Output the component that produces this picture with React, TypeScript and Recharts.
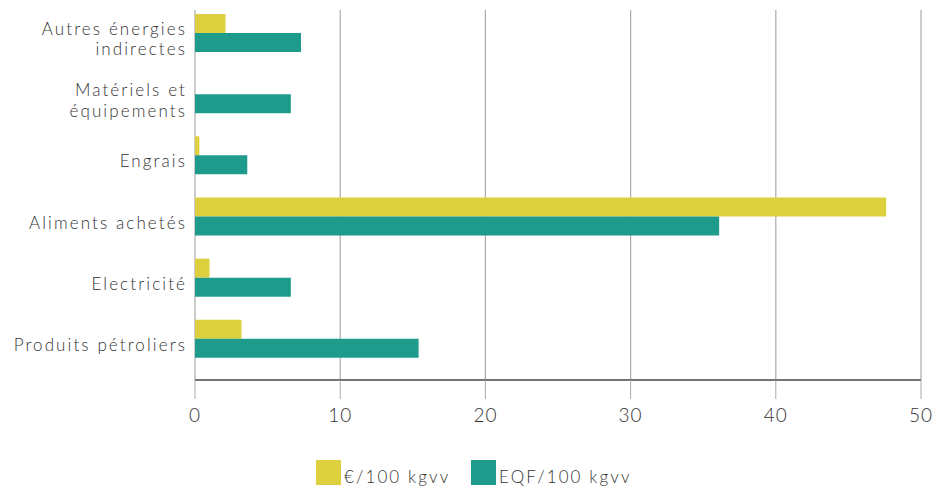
import React from 'react';
import { BarChart, Bar, XAxis, YAxis, CartesianGrid } from 'recharts';

const categories = [
  'Autres énergies\nindirectes',
  'Matériels et\néquipements',
  'Engrais',
  'Aliments achetés',
  'Electricité',
  'Produits pétroliers',
];
const euroValues = [2.1, 0, 0.3, 47.6, 1.0, 3.2];
const eqfValues = [7.3, 6.6, 3.6, 36.1, 6.6, 15.4];
const xTicks = [0, 10, 20, 30, 40, 50];

const YELLOW = '#ddd03f';
const TEAL = '#1e9b8b';
const FONT = 'Lato, "Open Sans", sans-serif';

const data = categories.map((name, i) => ({
  name,
  euro: euroValues[i],
  eqf: eqfValues[i],
}));

const CategoryTick = (props: any) => {
  const { x, y, payload } = props;
  const lines: string[] = String(payload.value).split('\n');
  const lh = 20.5;
  const start = y + 6 - ((lines.length - 1) * lh) / 2;
  return (
    <g>
      {lines.map((l, i) => (
        <text
          key={i}
          x={x}
          y={start + i * lh}
          textAnchor="end"
          dominantBaseline="central"
          fill="#333"
          fontFamily={FONT}
          fontWeight={300}
          fontSize={17}
          letterSpacing={2.1}
        >
          {l}
        </text>
      ))}
    </g>
  );
};

const legendItems = [
  { label: '€/100 kgvv', color: YELLOW },
  { label: 'EQF/100 kgvv', color: TEAL },
];

export default function App() {
  return (
    <div style={{ position: 'absolute', left: 0, top: 0, width: 951, height: 490, background: '#fff' }}>
      <BarChart
        width={951}
        height={490}
        data={data}
        layout="vertical"
        margin={{ top: 2, right: 30, bottom: 70, left: 0 }}
        barGap={0}
        barSize={19}
      >
        <CartesianGrid horizontal={false} stroke="#aaa" strokeWidth={1.2} y={10} height={370} />
        <XAxis
          type="number"
          domain={[0, 50]}
          ticks={xTicks}
          height={40}
          axisLine={{ stroke: '#444', strokeWidth: 1.5 }}
          tickLine={{ stroke: '#aaa' }}
          tickSize={19}
          tickMargin={10}
          tick={{ fill: '#333', fontSize: 19, fontFamily: FONT, fontWeight: 300, letterSpacing: 1 }}
        />
        <YAxis
          type="category"
          dataKey="name"
          width={195}
          axisLine={false}
          tickLine={false}
          padding={{ top: 0, bottom: 11 }}
          tick={<CategoryTick />}
          interval={0}
        />
        <Bar dataKey="euro" fill={YELLOW} isAnimationActive={false} />
        <Bar dataKey="eqf" fill={TEAL} isAnimationActive={false} />
      </BarChart>
      <div
        style={{
          position: 'absolute',
          top: 460,
          left: 316,
          display: 'flex',
          alignItems: 'center',
          fontFamily: FONT,
          fontWeight: 300,
          fontSize: 17,
          letterSpacing: 2.1,
          color: '#333',
        }}
      >
        {legendItems.map((it, i) => (
          <div key={i} style={{ display: 'flex', alignItems: 'center', width: i === 0 ? 155 : 'auto' }}>
            <span style={{ display: 'inline-block', width: 25, height: 25, background: it.color, marginRight: 3 }} />
            <span style={{ position: 'relative', top: 4 }}>{it.label}</span>
          </div>
        ))}
      </div>
    </div>
  );
}
